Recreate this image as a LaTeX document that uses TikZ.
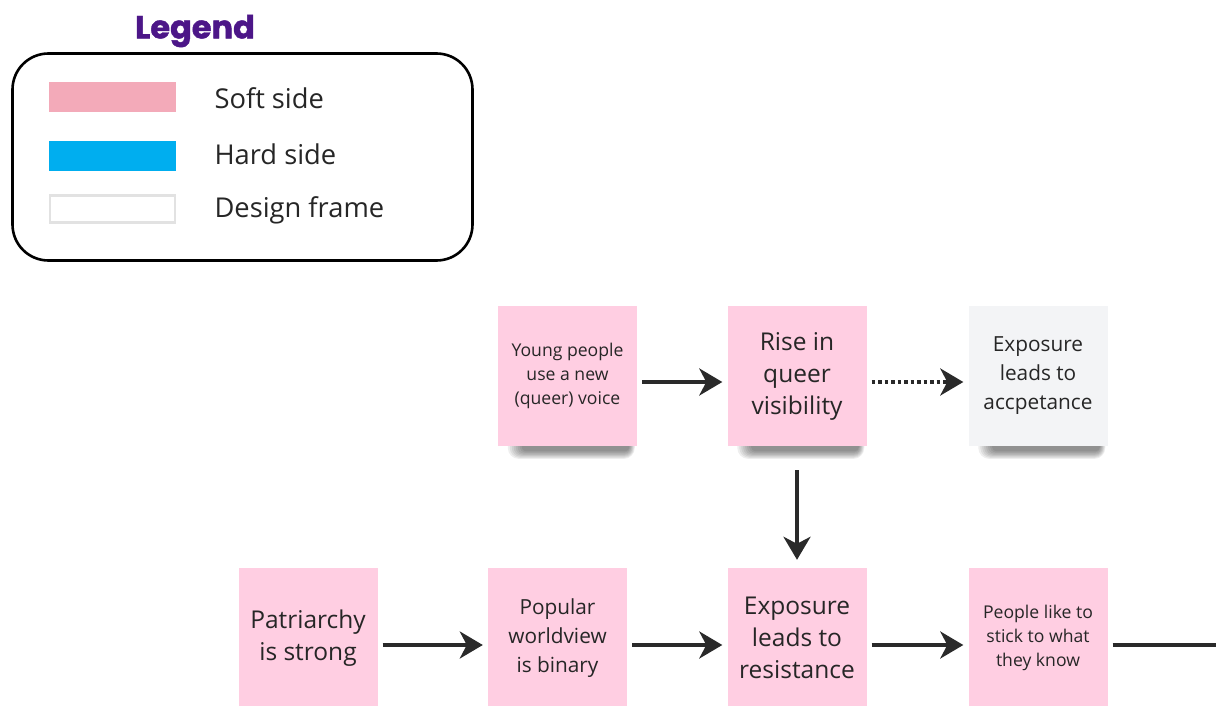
\documentclass[tikz,border=0pt]{standalone}
\usepackage{fontspec}
\setmainfont{Open Sans}
\newfontfamily\titlefont[BoldFeatures={FakeBold=1.3}]{Poppins}
\usetikzlibrary{arrows.meta,backgrounds}

\definecolor{notepink}{RGB}{255,206,226}
\definecolor{softpink}{RGB}{243,170,185}
\definecolor{hardblue}{RGB}{0,174,239}
\definecolor{framegray}{RGB}{243,244,246}
\definecolor{framebord}{RGB}{226,226,226}
\definecolor{inkdark}{RGB}{42,42,42}
\definecolor{legendpurple}{RGB}{76,22,136}

\tikzset{
  note/.style={rectangle, fill=notepink, minimum width=139pt, minimum height=140pt,
    align=center, inner sep=4pt, text=black!85},
  framenote/.style={note, fill=framegray},
  big/.style={font=\fontsize{24.5}{32}\selectfont},
  mid/.style={font=\fontsize{20.8}{29}\selectfont},
  small/.style={font=\fontsize{17.6}{24}\selectfont},
  link/.style={draw=inkdark, line width=3.8pt,
    -{Stealth[length=23pt, width=27pt, inset=7pt]},
    shorten <=5pt, shorten >=5pt},
  swatch/.style={rectangle, minimum width=127pt, minimum height=30pt, inner sep=0pt},
  legtext/.style={anchor=west, font=\fontsize{27.3}{30}\selectfont, text=black!85},
  shadowlayer/.style={fill=black, opacity=0.065},
}

% soft drop shadow under a sticky note, built from stacked translucent layers
\newcommand\noteshadow[1]{%
  \foreach \k in {0,...,7}{%
    \path[shadowlayer, rounded corners={4pt+\k pt}]
      ([xshift={24pt-2*\k pt}, yshift=18pt]#1.south west)
      rectangle ([xshift={-8pt+0.8*\k pt}, yshift={-5pt-1.1*\k pt}]#1.south east);
  }%
}

\begin{document}
\begin{tikzpicture}[x=1pt, y=-1pt]
\useasboundingbox (0,0) rectangle (1216,706);

% legend
\node (title) at (195,31) {\titlefont\bfseries\fontsize{32}{34}\selectfont\color{legendpurple}Legend};
\node[draw=black, line width=2.6pt, rounded corners=36pt, minimum width=460pt,
  minimum height=207pt, inner sep=0pt] (legbox) at (242.5,157) {};
\node[swatch, fill=softpink] (sw1) at (112.5,97) {};
\node[swatch, fill=hardblue] (sw2) at (112.5,156) {};
\node[swatch, fill=white, draw=framebord, line width=2.5pt, minimum width=125pt, minimum height=27pt] (sw3) at (112.5,209) {};
\node[legtext] (lt1) at (211,98) {Soft side};
\node[legtext] (lt2) at (211,154) {Hard side};
\node[legtext] (lt3) at (211,210) {Design frame};

% top row
\node[note, small] (young) at (567.5,376) {Young people\\use a new\\(queer) voice};
\node[note, big] (rise) at (797,376) {Rise in\\queer\\visibility};
\node[framenote, mid] (accept) at (1038,376) {Exposure\\leads to\\accpetance};

% bottom row
\node[note, big] (patri) at (308,638) {Patriarchy\\is strong};
\node[note, mid] (popular) at (557.5,638) {Popular\\worldview\\is binary};
\node[note, big] (resist) at (797,638) {Exposure\\leads to\\resistance};
\node[note, small] (stick) at (1038,638) {People like to\\stick to what\\they know};
\coordinate (offright) at (1216,645);

% page background and note shadows
\begin{pgfonlayer}{background}
  \fill[white] (0,0) rectangle (1216,706);
  \noteshadow{young}
  \noteshadow{rise}
  \noteshadow{accept}
\end{pgfonlayer}

% connectors
\draw[link] (young.east |- 0,382) -- (rise.west |- 0,382);
\draw[link, dash pattern=on 3.5pt off 3pt] (rise.east |- 0,382) -- (accept.west |- 0,382);
\draw[link, shorten <=24pt, shorten >=8pt] (rise.south) -- (resist.north);
\draw[link] (patri.east |- 0,645) -- (popular.west |- 0,645);
\draw[link] (popular.east |- 0,645) -- (resist.west |- 0,645);
\draw[link] (resist.east |- 0,645) -- (stick.west |- 0,645);
\draw[draw=inkdark, line width=3.8pt, shorten <=5pt] (stick.east |- 0,645) -- (offright);
\end{tikzpicture}
\end{document}
